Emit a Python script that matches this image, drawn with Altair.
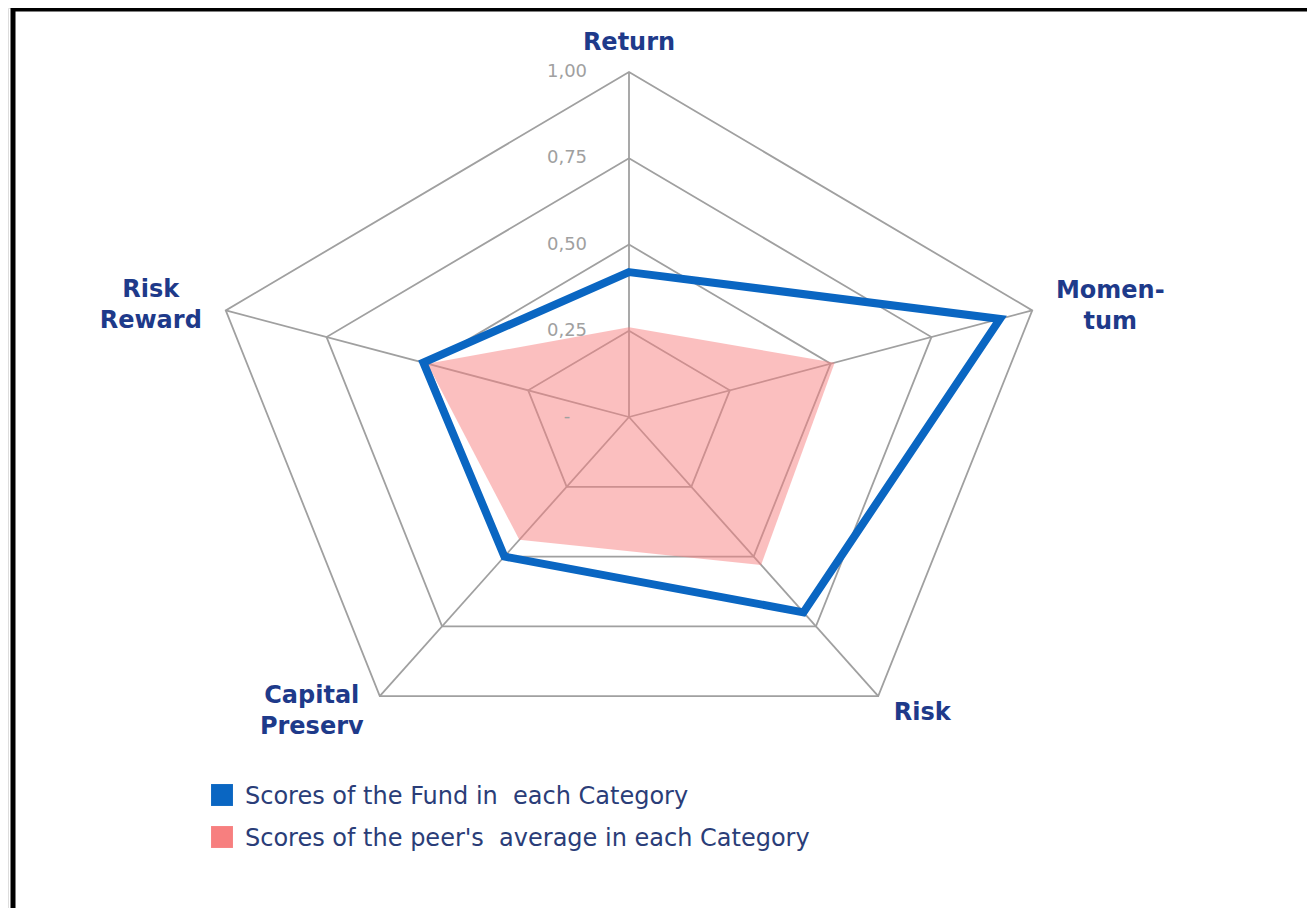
import altair as alt
import pandas as pd

# ---------------- data ----------------
categories = ["Return", "Momentum", "Risk", "Capital Preserv", "Risk Reward"]
category_labels = ["Return", "Momen-\ntum", "Risk", "Capital\nPreserv", "Risk\nReward"]
fund_scores = [0.42, 0.92, 0.70, 0.50, 0.51]
peer_scores = [0.26, 0.51, 0.53, 0.44, 0.50]
grid_levels = [0.25, 0.50, 0.75, 1.00]
tick_values = [0.0, 0.25, 0.50, 0.75, 1.00]
tick_labels = ["-", "0,25", "0,50", "0,75", "1,00"]
series_names = ["Scores of the Fund in\u00a0 each Category",
                "Scores of the peer's\u00a0 average in each Category"]

# ---------------- styling ----------------
W, H = 1299, 900
CX, CY = 621, 409          # centre of the radar in plot pixels
RX, RY = 424, 345          # radius of the 1.0 ring in pixels (x / y)
X_DOM = [-CX / RX, (W - CX) / RX]
Y_DOM = [-(H - CY) / RY, CY / RY]

BLUE = "#0a66c2"
PINK = "#f77f7f"
GRID = "#a0a0a0"
LABEL = "#1e3a8a"
LEGEND_TXT = "#2a3d78"
# offsets of the first text line from the axis end point
label_offsets = {"Return": (0, -29), "Momentum": (78, -19), "Risk": (44, 17),
                 "Capital Preserv": (-68, 0), "Risk Reward": (-75, -20)}

N = len(categories)
xs = alt.Scale(domain=X_DOM, nice=False, zero=False)
ys = alt.Scale(domain=Y_DOM, nice=False, zero=False)


def polar(ch):
    return ch.transform_calculate(
        px=f"datum.r * sin(datum.k * 2 * PI / {N})",
        py=f"datum.r * cos(datum.k * 2 * PI / {N})",
    ).encode(
        x=alt.X("px:Q", scale=xs, axis=None),
        y=alt.Y("py:Q", scale=ys, axis=None),
    )


# grid rings
grid_df = pd.DataFrame([{"level": lv, "k": k, "r": lv}
                        for lv in grid_levels for k in range(N)])
grid = polar(alt.Chart(grid_df).mark_line(
    color=GRID, strokeWidth=1.8, interpolate="linear-closed")).encode(
    detail="level:N", order="k:Q")

# spokes
spoke_df = pd.DataFrame([{"cat": c, "k": k, "r": r, "o": j}
                         for k, c in enumerate(categories)
                         for j, r in enumerate([0.0, 1.0])])
spokes = polar(alt.Chart(spoke_df).mark_line(
    color=GRID, strokeWidth=1.8)).encode(detail="cat:N", order="o:Q")

# peer average (filled polygon)
peer_df = pd.DataFrame({"cat": categories, "k": list(range(N)), "r": peer_scores})
peer = polar(alt.Chart(peer_df).mark_line(
    fill=PINK, fillOpacity=0.5, stroke=PINK, strokeOpacity=0, strokeWidth=0,
    interpolate="linear-closed")).encode(order="k:Q")

# fund (thick outline)
fund_df = pd.DataFrame({"cat": categories, "k": list(range(N)), "r": fund_scores})
fund = polar(alt.Chart(fund_df).mark_line(
    color=BLUE, strokeWidth=8, interpolate="linear-closed",
    strokeJoin="miter")).encode(order="k:Q")

# tick labels along the Return axis
tick_df = pd.DataFrame({"k": [0] * len(tick_values), "r": tick_values, "t": tick_labels})
ticks = polar(alt.Chart(tick_df).mark_text(
    align="center", baseline="middle", dx=-62, fontSize=18,
    font="DejaVu Sans", color="#a0a0a0")).encode(text="t:N")

# category labels
label_layers = []
for k, (c, lab) in enumerate(zip(categories, category_labels)):
    dx, dy = label_offsets[c]
    ldf = pd.DataFrame({"k": [k], "r": [1.0], "t": [lab]})
    label_layers.append(polar(alt.Chart(ldf).mark_text(
        align="center", baseline="middle", dx=dx, dy=dy, lineBreak="\n",
        lineHeight=31, fontSize=24, fontWeight="bold", font="DejaVu Sans",
        color=LABEL)).encode(text="t:N"))

# legend (manual)
leg_df = pd.DataFrame({"name": series_names})
legend_layers = []
for i, (name, col) in enumerate(zip(series_names, [BLUE, PINK])):
    one = leg_df[leg_df["name"] == name]
    yy = 787 + i * 42
    legend_layers.append(alt.Chart(one).mark_square(
        size=480, opacity=1, color=col).encode(
        x=alt.value(214), y=alt.value(yy)))
    legend_layers.append(alt.Chart(one).mark_text(
        align="left", baseline="middle", fontSize=24, font="DejaVu Sans",
        color=LEGEND_TXT).encode(
        x=alt.value(237), y=alt.value(yy + 2), text="name:N"))

# outer frame
frame = alt.Chart(pd.DataFrame({"a": [0]})).mark_rect(
    fillOpacity=0, stroke="black", strokeWidth=5).encode(
    x=alt.value(5), x2=alt.value(W + 20), y=alt.value(1), y2=alt.value(H + 20))

chart = alt.layer(
    grid, spokes, peer, fund, ticks, *label_layers, *legend_layers, frame
).properties(
    width=W, height=H, padding=0, autosize=alt.AutoSizeParams(type="none")
).configure_view(stroke=None).configure(background="white")

chart.save("out.html", embed_options={"renderer": "svg", "actions": False})
